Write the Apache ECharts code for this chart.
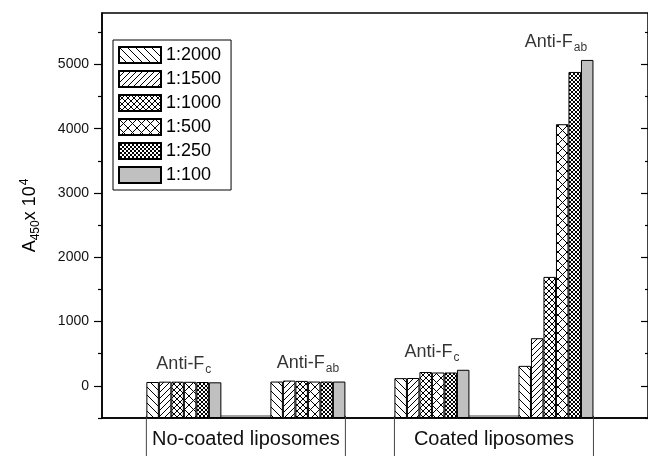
<!DOCTYPE html>
<html>
<head>
<meta charset="utf-8">
<script src="https://cdn.jsdelivr.net/npm/echarts@6/dist/echarts.min.js"></script>
<style>
  html, body { margin: 0; padding: 0; background: #fff; }
  #chart { width: 648px; height: 456px; }
</style>
</head>
<body>
<div id="chart"></div>
<script>
// Antibody dilutions (one bar series each)
const dilutions = ['1:2000', '1:1500', '1:1000', '1:500', '1:250', '1:100'];
// Group positions on the x axis and the antibody fragment of each group
const groupPos = [1, 2, 3, 4];
const groupFragment = ['c', 'ab', 'c', 'ab'];
// Liposome types, each spanning two groups
const liposomeTypes = ['No-coated liposomes', 'Coated liposomes'];
const liposomeSpans = [[1, 2], [3, 4]];

// A450 x 10^4 per group, one array per dilution
const v2000 = [60, 67, 120, 311];
const v1500 = [65, 82, 122, 741];
const v1000 = [65, 77, 215, 1695];
const v500  = [63, 67, 208, 4070];
const v250  = [60, 67, 208, 4883];
const v100  = [55, 67, 250, 5070];

// Y axis ticks
const yMajorTicks = [0, 1000, 2000, 3000, 4000, 5000];
const yMinorTicks = [-500, 500, 1500, 2500, 3500, 4500, 5500];

const values = [v2000, v1500, v1000, v500, v250, v100];
const FONT = "'Liberation Sans', Arial, sans-serif";
const BAR_W = 12.5;

// Hatch pattern tiles
function hatch(spacing, dirs) {
  const size = 72;
  const c = document.createElement('canvas');
  c.width = c.height = size;
  const g = c.getContext('2d');
  g.fillStyle = '#fff';
  g.fillRect(0, 0, size, size);
  g.strokeStyle = '#000';
  g.lineWidth = 1;
  g.beginPath();
  dirs.forEach(d => {
    for (let k = -size; k <= 2 * size; k += spacing) {
      if (d === '\\') { g.moveTo(k, 0); g.lineTo(k + size, size); }
      else { g.moveTo(k, size); g.lineTo(k + size, 0); }
    }
  });
  g.stroke();
  return { image: c, repeat: 'repeat' };
}

const fills = [
  hatch(8, ['\\']),
  hatch(6, ['/']),
  hatch(6, ['\\', '/']),
  hatch(9, ['\\', '/']),
  hatch(4, ['\\', '/']),
  '#c0c0c0'
];

const groupMax = groupPos.map((_, i) => Math.max(...values.map(v => v[i])));

const barSeries = dilutions.map((name, s) => ({
  name: name,
  type: 'bar',
  xAxisIndex: 0,
  yAxisIndex: 0,
  barWidth: BAR_W,
  barGap: '0%',
  data: groupPos.map((x, i) => [x, values[s][i]]),
  itemStyle: { color: fills[s], borderColor: '#000', borderWidth: 1 },
  emphasis: { disabled: true },
  animation: false
}));

const labelSeries = {
  type: 'scatter',
  xAxisIndex: 0,
  yAxisIndex: 0,
  symbolSize: 0,
  silent: true,
  animation: false,
  data: groupPos.map((x, i) => ({ value: [x, groupMax[i]], frag: groupFragment[i] })),
  label: {
    show: true,
    position: 'top',
    distance: 6,
    formatter: p => '{m|Anti-F}{s|' + p.data.frag + '}',
    rich: {
      m: { fontSize: 18, fontFamily: FONT, color: '#000' },
      s: { fontSize: 12, fontFamily: FONT, color: '#000', padding: [12, 0, 0, 1] }
    }
  }
};

const chart = echarts.init(document.getElementById('chart'), null, { renderer: 'canvas' });

const yBase = { type: 'value', min: -500, max: 5800, splitLine: { show: false } };

chart.setOption({
  backgroundColor: '#fff',
  animation: false,
  grid: {
    left: 102, top: 13, width: 548, height: 405,
    show: true, borderColor: '#000', borderWidth: 1.5, backgroundColor: 'transparent'
  },
  legend: {
    data: dilutions,
    orient: 'vertical',
    left: 113, top: 40,
    itemWidth: 42, itemHeight: 16, itemGap: 6,
    padding: [6, 10, 6, 5],
    borderColor: '#000', borderWidth: 1,
    icon: 'rect',
    selectedMode: false,
    textStyle: { fontSize: 18, fontFamily: FONT, color: '#000' }
  },
  xAxis: {
    type: 'value',
    min: 0.34, max: 4.742,
    axisLine: { show: true, onZero: false, lineStyle: { color: '#000', width: 1.5 } },
    axisTick: { show: false },
    axisLabel: { show: false },
    splitLine: { show: false }
  },
  yAxis: [
    Object.assign({}, yBase, {
      position: 'left',
      startValue: -500,
      name: '{a|A}{b|450}{a|x 10}{c|4}',
      nameLocation: 'middle',
      nameRotate: 90,
      nameGap: 60,
      nameTextStyle: {
        rich: {
          a: { fontSize: 18, fontFamily: FONT, color: '#000' },
          b: { fontSize: 12, fontFamily: FONT, color: '#000', padding: [12, 0, 0, 0] },
          c: { fontSize: 12, fontFamily: FONT, color: '#000', padding: [0, 0, 10, 1] }
        }
      },
      axisLine: { show: true, onZero: false, lineStyle: { color: '#000', width: 1.5 } },
      axisTick: { show: true, inside: false, length: 8, customValues: yMajorTicks, lineStyle: { color: '#000', width: 1.2 } },
      axisLabel: {
        show: true, customValues: yMajorTicks, margin: 13,
        formatter: v => String(v),
        fontSize: 14, fontFamily: FONT, color: '#111'
      }
    }),
    Object.assign({}, yBase, {
      position: 'left',
      axisLine: { show: false },
      axisTick: { show: true, inside: false, length: 4, customValues: yMinorTicks, lineStyle: { color: '#000', width: 1.2 } },
      axisLabel: { show: false }
    }),
    Object.assign({}, yBase, {
      position: 'right',
      axisLine: { show: false },
      axisTick: { show: true, inside: true, length: 7, customValues: yMajorTicks, lineStyle: { color: '#000', width: 1.2 } },
      axisLabel: { show: false }
    }),
    Object.assign({}, yBase, {
      position: 'right',
      axisLine: { show: false },
      axisTick: { show: true, inside: true, length: 3, customValues: yMinorTicks, lineStyle: { color: '#000', width: 1.2 } },
      axisLabel: { show: false }
    })
  ],
  series: barSeries.concat([labelSeries])
});

// Liposome type boxes below the x axis, placed through the axis scale
const graphics = [];
liposomeTypes.forEach((txt, k) => {
  const [a, b] = liposomeSpans[k];
  const pa = chart.convertToPixel({ gridIndex: 0 }, [a, -500]);
  const pb = chart.convertToPixel({ gridIndex: 0 }, [b, -500]);
  const left = pa[0] - 3 * BAR_W;
  const right = pb[0] + 3 * BAR_W;
  const yb = pa[1];
  graphics.push({
    type: 'rect', silent: true, z: 1,
    shape: { x: left, y: yb - 2, width: right - left, height: 80 },
    style: { fill: 'none', stroke: '#444', lineWidth: 1 }
  });
  graphics.push({
    type: 'text', silent: true, z: 2,
    style: {
      text: txt, x: (left + right) / 2, y: yb + 21,
      textAlign: 'center', textVerticalAlign: 'middle',
      font: '20px ' + FONT, fill: '#111'
    }
  });
});
chart.setOption({ graphic: graphics });
</script>
</body>
</html>
